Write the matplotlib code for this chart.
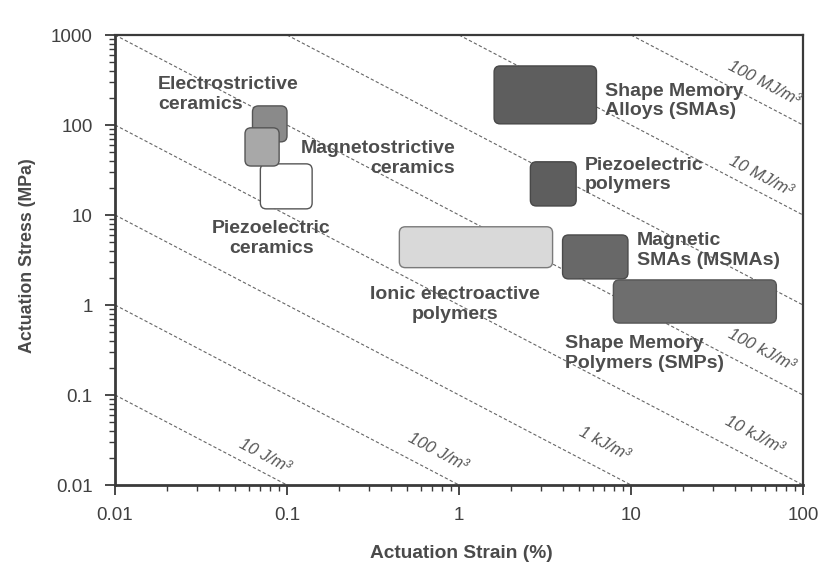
import numpy as np
import matplotlib
matplotlib.use("Agg")
import matplotlib.pyplot as plt
import matplotlib.transforms as mtransforms
from matplotlib.patches import FancyBboxPatch
from matplotlib.ticker import FuncFormatter, LogLocator

plt.rcParams['font.family'] = ['Liberation Sans', 'DejaVu Sans']

# --- actuator classes: strain (%) and stress (MPa) ranges ---
materials = ["Electrostrictive ceramics", "Piezoelectric ceramics", "Magnetostrictive ceramics",
             "Shape Memory Alloys", "Piezoelectric polymers", "Ionic electroactive polymers",
             "Magnetic SMAs", "Shape Memory Polymers"]
strain_lo = [0.063, 0.070, 0.057, 1.6, 2.6, 0.45, 4.0, 7.9]
strain_hi = [0.100, 0.140, 0.090, 6.3, 4.8, 3.5, 9.6, 70.0]
stress_lo = [65.0, 11.7, 35.0, 103.0, 12.6, 2.6, 1.95, 0.63]
stress_hi = [163.0, 37.0, 93.0, 453.0, 39.0, 7.4, 6.0, 1.9]
box_face = ['#8a8a8a', '#ffffff', '#a8a8a8', '#5e5e5e', '#5e5e5e', '#d9d9d9', '#686868', '#6e6e6e']
box_edge = ['#555555', '#555555', '#555555', '#484848', '#484848', '#7a7a7a', '#4a4a4a', '#555555']

# --- constant energy density lines: strain(%) * stress(MPa) ---
energy_const = [1e-3, 1e-2, 1e-1, 1.0, 10.0, 100.0, 1e3, 1e4]
energy_labels = ["10 J/m³", "100 J/m³", "1 kJ/m³", "10 kJ/m³", "100 kJ/m³", None, "10 MJ/m³", "100 MJ/m³"]
# where the labels sit (strain, stress)
label_xy = [(0.0745, 0.021), (0.755, 0.0234), (6.97, 0.0286), (51.9, 0.036), (57, 0.316),
            None, (57, 27), (59, 293)]

# material text: (strain, stress, text, align)
mat_text = [
    (0.0178, 218, "Electrostrictive\nceramics", 'left'),
    (0.948, 42.5, "Magnetostrictive\nceramics", 'right'),
    (0.081, 5.48, "Piezoelectric\nceramics", 'center'),
    (7.06, 185, "Shape Memory\nAlloys (SMAs)", 'left'),
    (5.4, 27.8, "Piezoelectric\npolymers", 'left'),
    (10.8, 4.03, "Magnetic\nSMAs (MSMAs)", 'left'),
    (0.95, 1.01, "Ionic electroactive\npolymers", 'center'),
    (4.13, 0.289, "Shape Memory\nPolymers (SMPs)", 'left'),
]

fig = plt.figure(figsize=(8.39, 5.8), dpi=100)
ax = fig.add_axes([115 / 839, 1 - 485 / 580, 688 / 839, 450 / 580])
ax.set_xscale('log')
ax.set_yscale('log')
ax.set_xlim(0.01, 100)
ax.set_ylim(0.01, 1000)

# energy lines
xs = np.array([0.01, 100.0])
for c in energy_const:
    ax.plot(xs, c / xs, ls=(0, (3, 2)), lw=0.8, color='#666666', zorder=1)

# angle of the lines on screen
p0, p1 = ax.transData.transform([(1, 1), (10, 0.1)])
angle = np.degrees(np.arctan2(p1[1] - p0[1], p1[0] - p0[0]))

for lab, pos in zip(energy_labels, label_xy):
    if lab is None:
        continue
    ax.text(pos[0], pos[1], lab, fontsize=12, style='italic', color='#555555',
            rotation=angle, rotation_mode='anchor', ha='center', va='center', zorder=3)

# rounded boxes drawn in pixel space so the corners stay round on log axes
ident = mtransforms.IdentityTransform()
for x0, x1, y0, y1, fc, ec in zip(strain_lo, strain_hi, stress_lo, stress_hi, box_face, box_edge):
    (px0, py0), (px1, py1) = ax.transData.transform([(x0, y0), (x1, y1)])
    box = FancyBboxPatch((px0, py0), px1 - px0, py1 - py0,
                         boxstyle="round,pad=0,rounding_size=6",
                         facecolor=fc, edgecolor=ec, lw=1.0, transform=ident, zorder=2)
    ax.add_patch(box)

for x, y, txt, al in mat_text:
    ax.text(x, y, txt, fontsize=14, fontweight='bold', color='#4d4d4d',
            ha=al, va='center', multialignment=al, zorder=4)

# axes styling
fmt = FuncFormatter(lambda v, p: f"{v:g}")
ax.xaxis.set_major_formatter(fmt)
ax.yaxis.set_major_formatter(fmt)
ax.xaxis.set_major_locator(LogLocator(base=10, numticks=10))
ax.yaxis.set_major_locator(LogLocator(base=10, numticks=10))
ax.xaxis.set_minor_locator(LogLocator(base=10, subs=np.arange(2, 10), numticks=10))
ax.yaxis.set_minor_locator(LogLocator(base=10, subs=np.arange(2, 10), numticks=10))
ax.xaxis.set_minor_formatter(FuncFormatter(lambda v, p: ""))
ax.yaxis.set_minor_formatter(FuncFormatter(lambda v, p: ""))
ax.tick_params(which='major', direction='out', length=7, width=1.3, color='#3a3a3a',
               labelsize=13.5, labelcolor='#404040', pad=9)
ax.tick_params(which='minor', direction='out', length=4, width=1.0, color='#3a3a3a')
for side in ['left', 'bottom']:
    ax.spines[side].set_linewidth(2.0)
    ax.spines[side].set_color('#3a3a3a')
for side in ['top', 'right']:
    ax.spines[side].set_linewidth(1.6)
    ax.spines[side].set_color('#3a3a3a')

ax.set_xlabel("Actuation Strain (%)", fontsize=13.8, fontweight='bold', color='#4a4a4a')
ax.set_ylabel("Actuation Stress (MPa)", fontsize=12.8, fontweight='bold', color='#4a4a4a')
ax.xaxis.set_label_coords(0.503, -0.133)
ax.yaxis.set_label_coords(-0.115, 0.51)

fig.savefig("out.png", dpi=100)
